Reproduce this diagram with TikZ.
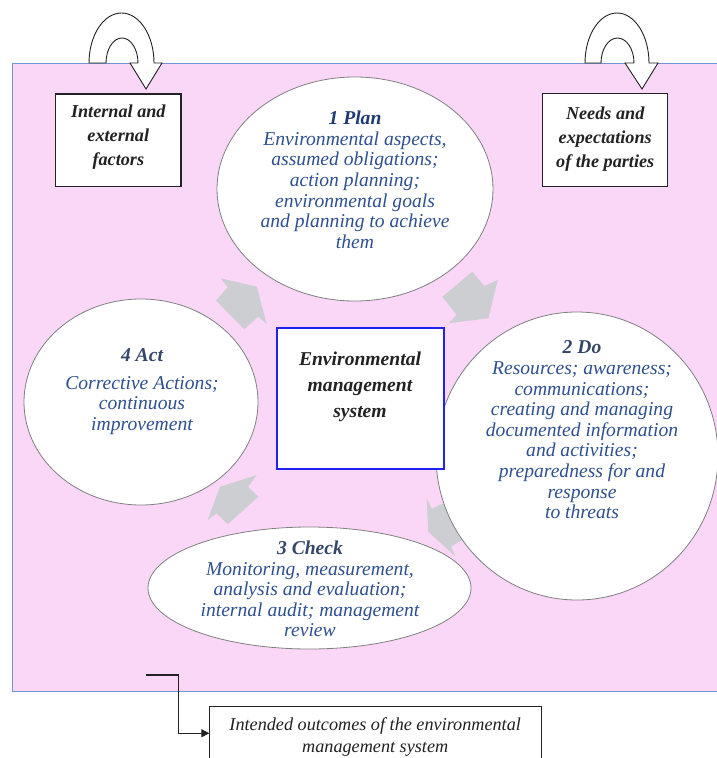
\documentclass[tikz,border=0pt]{standalone}
\usepackage{fontspec}
\setmainfont{Liberation Serif}
\usetikzlibrary{shapes.geometric,arrows.meta,calc}
\definecolor{pinkbg}{HTML}{FAD7F6}
\definecolor{frameblue}{HTML}{7393CC}
\definecolor{titlecol}{HTML}{34476A}
\definecolor{plantitle}{HTML}{1F3B73}
\definecolor{bodycol}{HTML}{2E5090}
\definecolor{arrowgray}{HTML}{CDCED2}
\definecolor{ellborder}{HTML}{808080}
\definecolor{emsblue}{HTML}{2020F0}
\definecolor{inkcol}{HTML}{222222}
\begin{document}
\begin{tikzpicture}[x=1pt,y=-1pt,
  phase/.style={ellipse, draw=ellborder, line width=0.8pt, fill=white, inner sep=0pt},
  infobox/.style={rectangle, draw=inkcol, line width=1.1pt, fill=white, inner sep=0pt},
  boxtext/.style={align=center, inner sep=0pt, text=inkcol, font=\fontsize{18.2}{23.8}\selectfont\bfseries\itshape},
  bodytext/.style={align=center, inner sep=0pt, text=bodycol, font=\fontsize{19.6}{20.6}\selectfont\itshape},
  titletext/.style={inner sep=0pt, text=titlecol, font=\fontsize{19.6}{20.6}\selectfont\bfseries\itshape},
  blockarrow/.style={fill=arrowgray, draw=none},
  uturn/.style={fill=white, draw=inkcol, line width=0.9pt, line join=miter},
  conn/.style={draw=inkcol, line width=1.2pt, -{Triangle[length=8pt,width=8pt]}}
]
\useasboundingbox (0,0) rectangle (717,758);

% background frame
\fill[pinkbg] (12,63) rectangle (730,691.5);
\draw[frameblue, line width=1pt] (730,63) -- (12,63) -- (12,691.5) -- (730,691.5);

% grey block arrows
\path[blockarrow] (216,300.7) -- (227.7,287.3) -- (220.7,278.3) -- (256.7,286.7) -- (266.7,324) -- (258.3,316.7) -- (244.3,329.3) -- cycle;
\path[blockarrow] (442.3,296.7) -- (472.3,271.7) -- (484.3,286) -- (497.7,280) -- (488.3,318.3) -- (448.3,323.3) -- (456.7,315) -- cycle;
\path[blockarrow] (426.7,498.3) -- (431.7,509) -- (441,504.3) -- (470,500) -- (470,538) -- (460,541) -- (451,546.7) -- (455.7,556.7) -- (428.3,531.7) -- cycle;
\path[blockarrow] (220,486.7) -- (256.7,475) -- (248,487) -- (258.3,496.7) -- (227.7,524.3) -- (216.7,513.3) -- (207.7,520) -- cycle;

% phases
\node[phase, minimum width=276pt, minimum height=224pt] (plan) at (355,189) {};
\node[phase, minimum width=234pt, minimum height=206pt] (act) at (141,402) {};
\node[phase, minimum width=282pt, minimum height=288pt] (do) at (577,456) {};
\node[phase, minimum width=323pt, minimum height=122pt] (check) at (309.5,588) {};

\node[bodytext] (plant) at (355,179.8) {\textcolor{plantitle}{\bfseries 1 Plan}\\Environmental aspects,\\assumed obligations;\\action planning;\\environmental goals\\and planning to achieve\\them};
\node[titletext] (actt) at (142,355.5) {4 Act};
\node[bodytext] (actb) at (142,405.5) {Corrective Actions;\\continuous\\improvement};
\node[bodytext] (dot) at (582,430) {\textcolor{titlecol}{\bfseries 2 Do}\\Resources; awareness;\\communications;\\creating and managing\\documented information\\and activities;\\preparedness for and\\response\\to threats};
\node[bodytext] (checkt) at (310,589) {\textcolor{titlecol}{\bfseries 3 Check}\\Monitoring, measurement,\\analysis and evaluation;\\internal audit; management\\review};

% central system
\node[rectangle, draw=emsblue, line width=1.3pt, fill=white, minimum width=167pt, minimum height=141pt, inner sep=0pt] (ems) at (360.5,398.5) {};
\node[boxtext, font=\fontsize{19.6}{26}\selectfont\bfseries\itshape] (emst) at (360,387) {Environmental\\management\\system};

% context boxes
\node[infobox, minimum width=125.3pt, minimum height=92.7pt] (ief) at (118.3,140.3) {};
\node[boxtext] (ieft) at (118.3,137) {Internal and\\external\\factors};
\node[infobox, minimum width=125pt, minimum height=93.4pt] (nep) at (605.2,140) {};
\node[boxtext] (nept) at (605.2,139) {Needs and\\expectations\\of the parties};

% U-turn arrows
\path[uturn] (89,63) .. controls (89,35.4) and (103.55,13) .. (121.5,13) .. controls (139.45,13) and (154,35.4) .. (154,63) -- (162,63) -- (146,89) -- (130,63) -- (138,63) .. controls (138,49.2) and (130.84,38) .. (122,38) .. controls (113.16,38) and (106,49.2) .. (106,63) -- cycle;
\path[uturn] (585,63) .. controls (585,35.4) and (599.33,13) .. (617,13) .. controls (634.67,13) and (649,35.4) .. (649,63) -- (658,63) -- (642,89) -- (625,63) -- (634,63) .. controls (634,49.2) and (626.61,38) .. (617.5,38) .. controls (608.39,38) and (601,49.2) .. (601,63) -- cycle;

% outcomes
\node[rectangle, draw=inkcol, line width=1.1pt, fill=white, anchor=north west, minimum width=331.7pt, minimum height=54pt, inner sep=0pt] (out) at (209.3,705.7) {};
\node[align=center, inner sep=0pt, text=inkcol, font=\fontsize{18.2}{22}\selectfont\itshape] (outt) at (375.2,737) {Intended outcomes of the environmental\\management system};
\coordinate (cs) at (146,675);
\draw[conn] (cs) -| ($(out.west)+(-31,0)$) -- (out.west);
\end{tikzpicture}
\end{document}
